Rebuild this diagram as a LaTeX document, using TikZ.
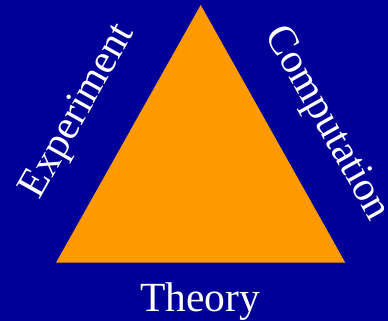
\documentclass[tikz,border=0pt]{standalone}
\usepackage{fontspec}
\setmainfont{Liberation Serif}
\usepackage{xcolor}

\begin{document}
\begin{tikzpicture}[
    x=1pt, y=-1pt,
    sidelabel/.style={
        text=white,
        font=\fontsize{41.5}{41.5}\selectfont,
        inner sep=0pt
    }
]

\definecolor{bgcol}{HTML}{000099}
\definecolor{tricol}{HTML}{FF9900}

\fill[bgcol] (0,0) rectangle (388,321);
\useasboundingbox (0,0) rectangle (388,321);

\coordinate (top)   at (200.7,5);
\coordinate (left)  at (56,262.7);
\coordinate (right) at (345.3,262.7);

\fill[tricol] (top) -- (left) -- (right) -- cycle;

\node[sidelabel, rotate=60.6]  (exp)  at (79,112)  {Experiment};
\node[sidelabel, rotate=-60.6] (comp) at (326,124) {Computation};
\node[sidelabel, anchor=base]  (theo) at (200,311) {Theory};

\end{tikzpicture}
\end{document}
